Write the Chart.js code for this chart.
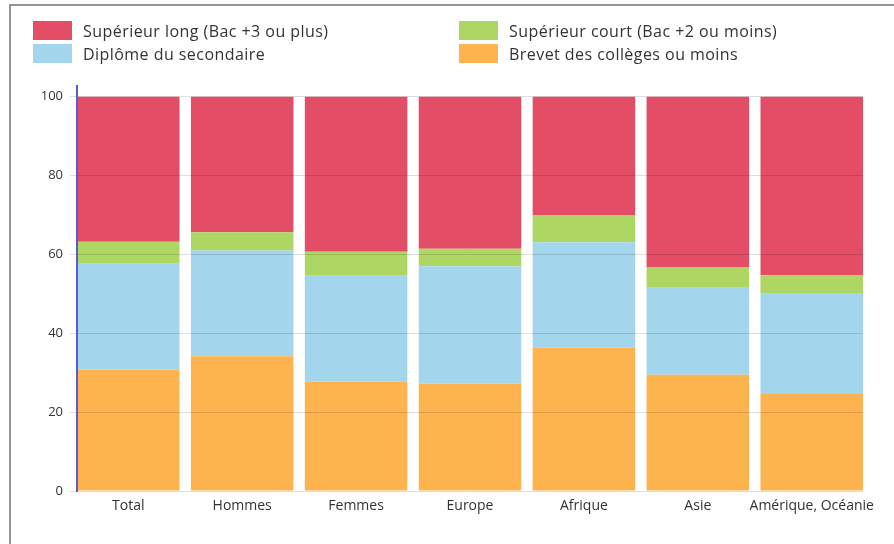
<!DOCTYPE html>
<html lang="fr">
<head>
<meta charset="utf-8">
<title>Niveau de diplôme</title>
<script src="https://cdn.jsdelivr.net/npm/chart.js@4.4.1/dist/chart.umd.min.js"></script>
<style>
    html, body { margin: 0; padding: 0; background: #fff; }
    body { width: 894px; height: 544px; position: relative; overflow: hidden; font-family: 'Open Sans', sans-serif; }
    .frame { position: absolute; left: 9px; top: 4px; right: 0; bottom: 0; border-left: 2px solid #949494; border-top: 2px solid #949494; }
    #chart { position: absolute; left: 0; top: 0; }
    #legend { position: absolute; left: 33px; top: 21px; display: grid; grid-template-columns: 426px auto; row-gap: 4px; }
    .item { display: flex; align-items: center; height: 19px; font-size: 16px; letter-spacing: 0.45px; color: #333; white-space: nowrap; }
    .item .box { width: 39px; height: 19px; margin-right: 11px; }
</style>
</head>
<body>
<div class="frame"></div>
<canvas id="chart" width="894" height="544"></canvas>
<div id="legend"></div>
<script>
document.addEventListener('DOMContentLoaded', () => {
    // Données (%)
    const categories = ['Total', 'Hommes', 'Femmes', 'Europe', 'Afrique', 'Asie', 'Amérique, Océanie'];
    const brevet = [30.8, 34.2, 27.7, 27.2, 36.4, 29.5, 24.6];
    const secondaire = [26.8, 26.8, 26.9, 29.8, 26.7, 22.2, 25.6];
    const superieurCourt = [5.6, 4.6, 6.1, 4.4, 6.9, 5.0, 4.5];
    const superieurLong = [36.8, 34.4, 39.3, 38.6, 30.0, 43.3, 45.3];
    const yTicks = [0, 20, 40, 60, 80, 100];

    const red = '#e34d66';
    const green = '#add663';
    const blue = '#a3d5ed';
    const orange = '#fdb34e';

    Chart.defaults.font.family = "'Open Sans', sans-serif";
    Chart.defaults.color = '#333';

    // barres posées sur un axe linéaire pour qu'elles touchent les bords
    const points = (arr) => arr.map((v, i) => ({ x: i, y: v }));

    const chart = new Chart(document.getElementById('chart'), {
        type: 'bar',
        data: {
            datasets: [
                { label: 'Brevet des collèges ou moins', data: points(brevet), backgroundColor: orange },
                { label: 'Diplôme du secondaire', data: points(secondaire), backgroundColor: blue },
                { label: 'Supérieur court (Bac +2 ou moins)', data: points(superieurCourt), backgroundColor: green },
                { label: 'Supérieur long (Bac +3 ou plus)', data: points(superieurLong), backgroundColor: red }
            ]
        },
        options: {
            responsive: false,
            animation: false,
            layout: { padding: { top: 86, right: 31, left: 0, bottom: 0 } },
            plugins: {
                legend: { display: false },
                tooltip: { enabled: false }
            },
            datasets: {
                bar: { categoryPercentage: 1, barPercentage: 0.9, borderWidth: 0 }
            },
            scales: {
                x: {
                    type: 'linear',
                    stacked: true,
                    offset: false,
                    min: -0.45,
                    max: 6.45,
                    grid: { display: false, drawTicks: false, offset: false },
                    border: { display: false },
                    ticks: {
                        stepSize: 1,
                        includeBounds: false,
                        autoSkip: false,
                        maxRotation: 0,
                        padding: 7,
                        font: { size: 14 },
                        callback: (v) => categories[v]
                    },
                    afterFit: (s) => { s.height = 53; }
                },
                y: {
                    stacked: true,
                    min: 0,
                    max: 102.7,
                    // grille et axe dessinés par-dessus les barres
                    grid: { color: 'rgba(0, 0, 0, 0.13)', tickLength: 7, z: 1 },
                    border: { color: '#5b5bd0', width: 2, z: 1 },
                    afterBuildTicks: (s) => { s.ticks = yTicks.map(v => ({ value: v })); },
                    ticks: { padding: 7, font: { size: 13 } },
                    afterFit: (s) => { s.width = 77; }
                }
            }
        }
    });

    // Légende sur deux colonnes
    const legendOrder = [3, 2, 1, 0];
    const legend = document.getElementById('legend');
    legendOrder.forEach((i) => {
        const ds = chart.data.datasets[i];
        const item = document.createElement('div');
        item.className = 'item';
        const box = document.createElement('span');
        box.className = 'box';
        box.style.background = ds.backgroundColor;
        item.appendChild(box);
        item.appendChild(document.createTextNode(ds.label));
        legend.appendChild(item);
    });
});
</script>
</body>
</html>
